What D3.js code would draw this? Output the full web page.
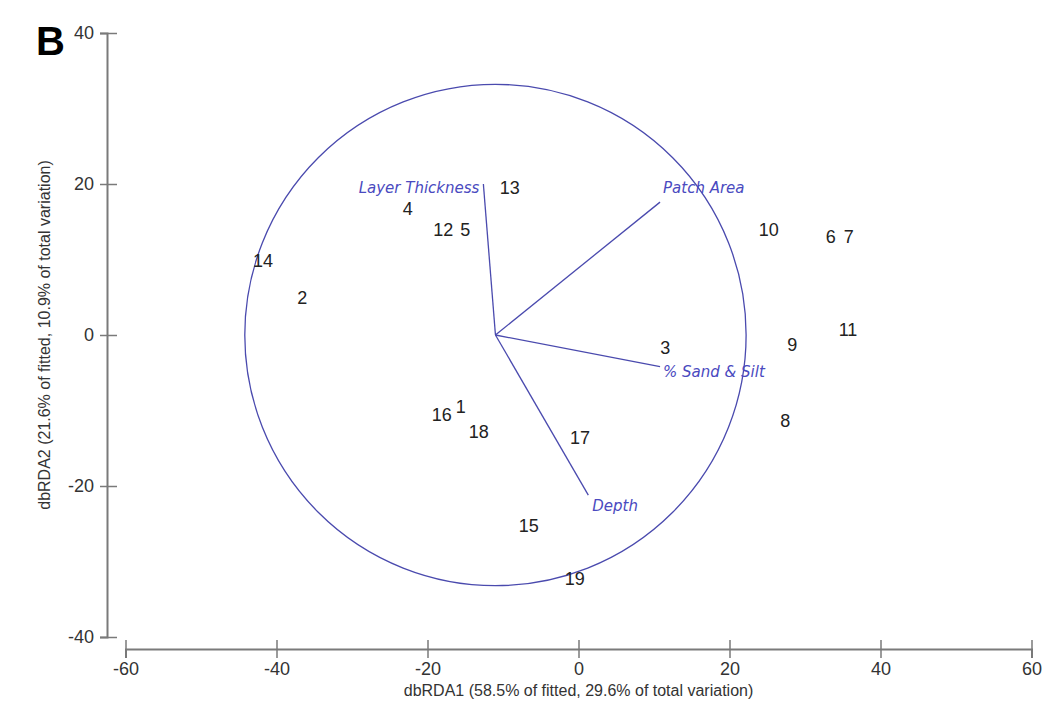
<!DOCTYPE html>
<html>
<head>
<meta charset="utf-8">
<script src="https://cdn.jsdelivr.net/npm/d3@7"></script>
<style>
  body { margin: 0; background: #fff; }
  svg { font-family: "Liberation Sans", Arial, sans-serif; }
</style>
</head>
<body>
<svg id="chart" width="1045" height="711"></svg>
<script>
// sample scores on dbRDA1 / dbRDA2
const sampleLabels = ['1', '2', '3', '4', '5', '6', '7', '8', '9', '10', '11', '12', '13', '14', '15', '16', '17', '18', '19'];
const sampleX = [-15.6, -36.6, 11.5, -22.6, -15.0, 33.4, 35.8, 27.4, 28.3, 25.2, 35.7, -17.9, -9.1, -41.8, -6.6, -18.1, 0.2, -13.2, -0.5];
const sampleY = [-9.5, 4.9, -1.7, 16.7, 14.0, 13.1, 13.1, -11.3, -1.3, 14.0, 0.7, 14.0, 19.6, 9.9, -25.2, -10.5, -13.6, -12.8, -32.2];

// predictor vectors (end points), drawn from the circle centre
const vectorNames = ['Layer Thickness', 'Patch Area', '% Sand & Silt', 'Depth'];
const vectorX = [-12.6, 10.8, 10.8, 1.3];
const vectorY = [20.0, 17.6, -4.2, -21.2];
const circleCentre = [-11.0, 0];
const circleRadius = 33.2;

const xTicks = [-60, -40, -20, 0, 20, 40, 60];
const yTicks = [-40, -20, 0, 20, 40];

const svg = d3.select('#chart');

const x = d3.scaleLinear().domain([-60, 60]).range([125.5, 1031.5]);
const y = d3.scaleLinear().domain([-40, 40]).range([637, 33]);

const axisColor = '#7a7a7a';
const blue = '#4a4aae';
const fmt = d => String(d); // plain hyphen, like the original

// x axis
const xAxis = svg.append('g')
    .attr('transform', 'translate(0,649)')
    .call(d3.axisBottom(x).tickValues(xTicks).tickFormat(fmt).tickSizeOuter(0).tickSize(9).tickPadding(4));
xAxis.select('.domain').attr('stroke', axisColor).attr('stroke-width', 2);
xAxis.selectAll('.tick line').attr('y1', -9).attr('y2', 9).attr('stroke', axisColor).attr('stroke-width', 1.5);
xAxis.selectAll('.tick text').attr('font-size', 18).attr('fill', '#333').style('font-family', 'Liberation Sans, Arial, sans-serif');

// y axis
const yAxis = svg.append('g')
    .attr('transform', 'translate(107,0)')
    .call(d3.axisLeft(y).tickValues(yTicks).tickFormat(fmt).tickSizeOuter(0).tickSize(7).tickPadding(6));
yAxis.select('.domain').attr('stroke', axisColor).attr('stroke-width', 2);
yAxis.selectAll('.tick line').attr('x1', -7).attr('x2', 10).attr('stroke', axisColor).attr('stroke-width', 1.5);
yAxis.selectAll('.tick text').attr('font-size', 18).attr('fill', '#333').style('font-family', 'Liberation Sans, Arial, sans-serif');

// axis titles
svg.append('text')
    .attr('x', x(0)).attr('y', 696)
    .attr('text-anchor', 'middle')
    .attr('font-size', 16).attr('fill', '#333')
    .text('dbRDA1 (58.5% of fitted, 29.6% of total variation)');

svg.append('text')
    .attr('transform', 'translate(50,' + y(0) + ') rotate(-90)')
    .attr('text-anchor', 'middle')
    .attr('font-size', 16).attr('fill', '#333')
    .text('dbRDA2 (21.6% of fitted, 10.9% of total variation)');

// panel letter
svg.append('text')
    .attr('x', 36).attr('y', 55)
    .attr('font-size', 40).attr('font-weight', 'bold').attr('fill', '#000')
    .text('B');

// correlation circle
const pxPerUnit = x(1) - x(0);
svg.append('circle')
    .attr('cx', x(circleCentre[0])).attr('cy', y(circleCentre[1]))
    .attr('r', circleRadius * pxPerUnit)
    .attr('fill', 'none').attr('stroke', blue).attr('stroke-width', 1.3);

// vectors
const vectors = vectorNames.map((name, i) => ({ name, vx: vectorX[i], vy: vectorY[i] }));
svg.selectAll('line.vec').data(vectors).enter().append('line')
    .attr('class', 'vec')
    .attr('x1', x(circleCentre[0])).attr('y1', y(circleCentre[1]))
    .attr('x2', d => x(d.vx)).attr('y2', d => y(d.vy))
    .attr('stroke', blue).attr('stroke-width', 1.3);

const labelShift = {
    'Layer Thickness': { dx: -4, dy: 9, anchor: 'end' },
    'Patch Area': { dx: 3, dy: -9, anchor: 'start' },
    '% Sand & Silt': { dx: 3, dy: 10, anchor: 'start' },
    'Depth': { dx: 4, dy: 16, anchor: 'start' }
};
svg.selectAll('text.vec').data(vectors).enter().append('text')
    .attr('class', 'vec')
    .attr('x', d => x(d.vx) + labelShift[d.name].dx)
    .attr('y', d => y(d.vy) + labelShift[d.name].dy)
    .attr('text-anchor', d => labelShift[d.name].anchor)
    .attr('font-size', 15).attr('font-style', 'italic').attr('fill', '#4a4ac0')
    .style('font-family', 'DejaVu Sans, sans-serif')
    .text(d => d.name);

// sample labels
const samples = sampleLabels.map((label, i) => ({ label, sx: sampleX[i], sy: sampleY[i] }));
svg.selectAll('text.sample').data(samples).enter().append('text')
    .attr('class', 'sample')
    .attr('x', d => x(d.sx)).attr('y', d => y(d.sy))
    .attr('dy', '0.36em')
    .attr('text-anchor', 'middle')
    .attr('font-size', 18).attr('fill', '#222')
    .text(d => d.label);
</script>
</body>
</html>
